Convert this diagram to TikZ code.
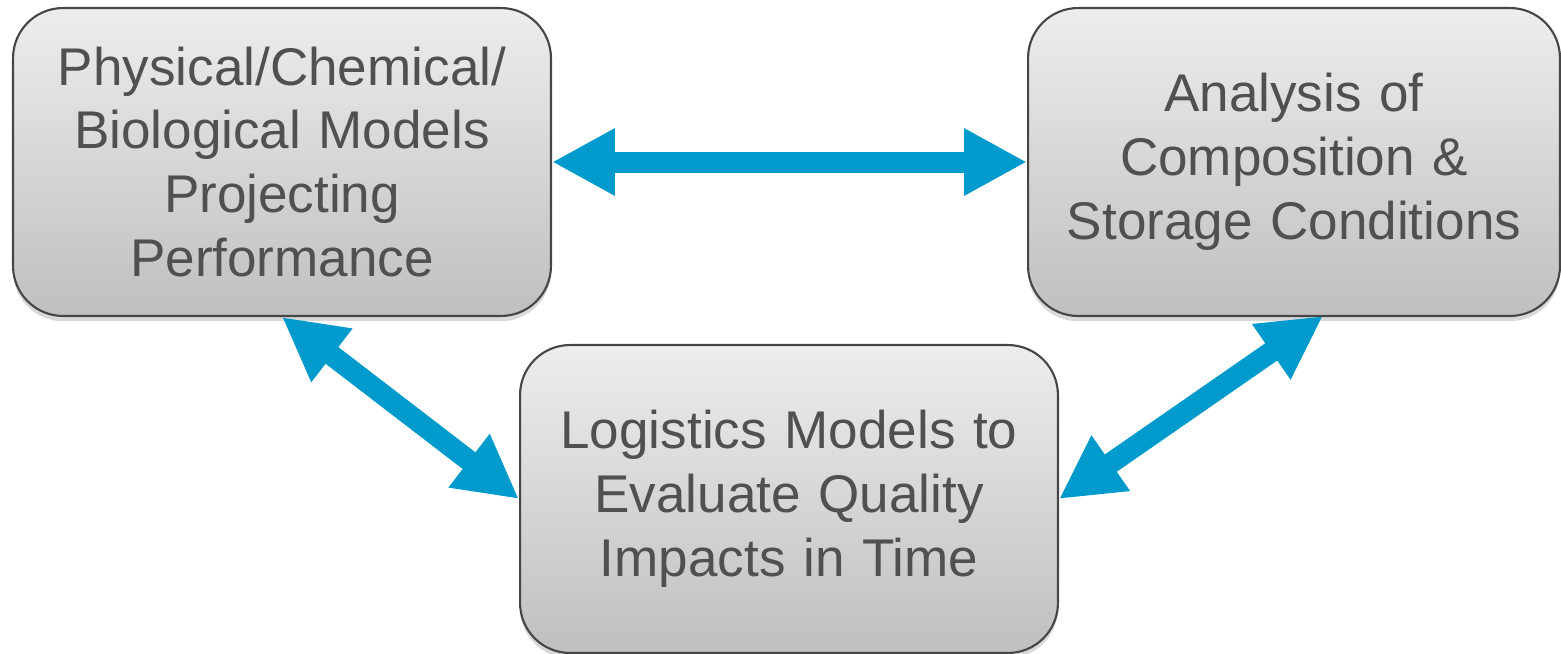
\documentclass[tikz,border=0pt]{standalone}
\usepackage{fontspec}
\setmainfont{Liberation Sans}
\usetikzlibrary{arrows.meta,shadows}
\definecolor{arrowblue}{RGB}{0,155,204}
\definecolor{boxline}{RGB}{70,70,70}
\definecolor{boxtext}{RGB}{80,80,80}

\begin{document}
\begin{tikzpicture}[x=0.02cm,y=-0.02cm,
    modelbox/.style={draw=boxline,line width=1.2pt,rounded corners=1cm,
        minimum width=10.76cm,minimum height=6.16cm,inner sep=0pt,
        top color=black!7,bottom color=black!25,
        drop shadow={shadow xshift=0pt,shadow yshift=-3pt,opacity=0.3},
        text=boxtext,text width=10.4cm,align=center,
        font=\fontsize{30.2pt}{36.4pt}\selectfont},
    linkarrow/.style={draw=arrowblue,line width=0.42cm,
        {Triangle[length=1.26cm,width=1.26cm]}-{Triangle[length=1.26cm,width=1.26cm]}}]
    \useasboundingbox (0,0) rectangle (1561,653);
    % the three boxes
    \node[modelbox] (phys) at (282,162) {Physical/Chemical/\\Biological Models\\Projecting\\Performance};
    \node[modelbox,minimum width=10.64cm] (anal) at (1294,162) {Analysis of\\Composition \&\\Storage Conditions};
    \node[modelbox] (logi) at (789,499) {Logistics Models to\\Evaluate Quality\\Impacts in Time};
    % arrows between them
    \coordinate (analfoot) at (1323,316);
    \draw[linkarrow] (phys.east) -- (anal.west);
    \draw[linkarrow] (phys.south) -- (logi.west);
    \draw[linkarrow] (analfoot) -- (logi.east);
\end{tikzpicture}
\end{document}
